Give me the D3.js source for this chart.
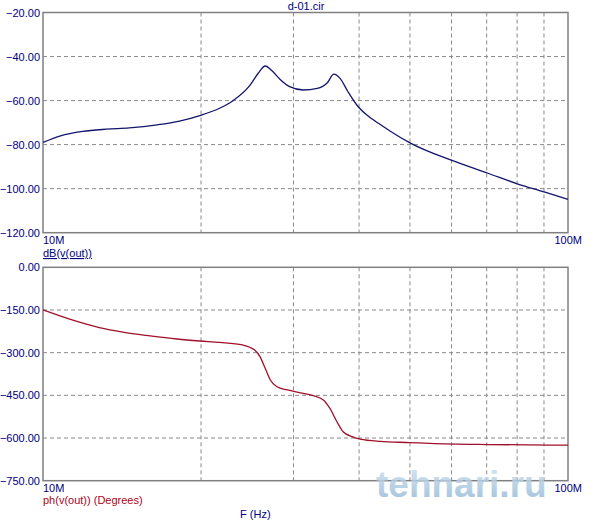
<!DOCTYPE html>
<html>
<head>
<meta charset="utf-8">
<script src="https://cdnjs.cloudflare.com/ajax/libs/d3/7.8.5/d3.min.js"></script>
<style>
body { margin: 0; background: #fff; }
text { font-family: "Liberation Sans", Arial, sans-serif; font-size: 11px; }
</style>
</head>
<body>
<svg id="chart" width="595" height="522"></svg>
<script>
// magnitude curve, MHz vs dB
var magFreq = [10, 10.8, 11.9, 13.2, 14.6, 16.5, 18.2, 19.9, 21.7, 23.0, 24.8, 25.7, 26.5, 27.3, 28.3, 29.5, 31.3, 33.3, 34.8, 35.8, 36.8, 38.1, 39.6, 41.4, 43.9, 45.8, 50.0, 60.1, 70.4, 80.3, 90.4, 100];
var magDb = [-79.0, -76.0, -74.0, -73.0, -72.4, -71.0, -69.3, -66.8, -63.5, -60.1, -53.0, -47.6, -44.3, -46.5, -50.4, -53.7, -55.2, -54.5, -51.9, -48.0, -49.9, -56.0, -62.0, -66.6, -70.9, -73.8, -79.2, -87.2, -93.0, -97.9, -101.6, -104.9];

// phase curve, MHz vs degrees
var phFreq = [10, 11.4, 12.8, 14.2, 16.0, 18.0, 19.9, 21.7, 24.0, 25.3, 25.9, 26.5, 27.1, 27.9, 29.2, 30.9, 32.7, 34.2, 35.2, 36.3, 37.3, 38.8, 40.2, 43.9, 50.0, 54.6, 71.0, 100];
var phDeg = [-150, -186, -212, -228, -241, -252, -259, -264, -273, -291, -314, -355, -396, -420, -431, -441, -451, -466, -496, -543, -578, -595, -604, -612, -616, -619, -623, -625];

var gridFreq = [20, 30, 40, 50, 60, 70, 80, 90];
var topTicks = [-20, -40, -60, -80, -100, -120];
var botTicks = [0, -150, -300, -450, -600, -750];

var svg = d3.select("#chart");
var left = 43, right = 568;

var x = d3.scaleLog().domain([10, 100]).range([left, right]);
var yTop = d3.scaleLinear().domain([-120, -20]).range([232.7, 12.5]);
var yBot = d3.scaleLinear().domain([-750, 0]).range([480.7, 267.3]);

function panel(y, ticks) {
  var g = svg.append("g");
  var y0 = y.range()[0], y1 = y.range()[1];
  // vertical grid
  g.selectAll(".vg").data(gridFreq).enter().append("line")
    .attr("x1", d => x(d)).attr("x2", d => x(d))
    .attr("y1", y1).attr("y2", y0)
    .attr("stroke", "#8a8a8a").attr("stroke-dasharray", "4,3");
  // horizontal grid
  g.selectAll(".hg").data(ticks.slice(1, -1)).enter().append("line")
    .attr("x1", left).attr("x2", right)
    .attr("y1", d => y(d)).attr("y2", d => y(d))
    .attr("stroke", "#8a8a8a").attr("stroke-dasharray", "4,3");
  g.append("rect")
    .attr("x", left).attr("y", y1).attr("width", right - left).attr("height", y0 - y1)
    .attr("fill", "none").attr("stroke", "#808080").attr("stroke-width", 1.5);
  g.selectAll(".yl").data(ticks).enter().append("text")
    .attr("x", 40).attr("y", d => y(d) + 4)
    .attr("text-anchor", "end").attr("fill", "#000080")
    .text(d => d3.format(".2f")(d));
  g.append("text").attr("x", left).attr("y", y0 + 11).attr("fill", "#000080").text("10M");
  g.append("text").attr("x", 582).attr("y", y0 + 11).attr("text-anchor", "end").attr("fill", "#000080").text("100M");
  return g;
}

var gTop = panel(yTop, topTicks);
var gBot = panel(yBot, botTicks);

var magLine = d3.line().x((d, i) => x(magFreq[i])).y(d => yTop(d)).curve(d3.curveMonotoneX);
var phLine = d3.line().x((d, i) => x(phFreq[i])).y(d => yBot(d)).curve(d3.curveMonotoneX);

gTop.append("path").datum(magDb).attr("d", magLine)
  .attr("fill", "none").attr("stroke", "#14146e").attr("stroke-width", 1.3);
gBot.append("path").datum(phDeg).attr("d", phLine)
  .attr("fill", "none").attr("stroke", "#a0102a").attr("stroke-width", 1.3);

// titles and labels
svg.append("text").attr("x", 306).attr("y", 10).attr("text-anchor", "middle").attr("fill", "#000080").text("d-01.cir");
svg.append("text").attr("x", left).attr("y", 257).attr("fill", "#000080")
  .attr("text-decoration", "underline").text("dB(v(out))");
svg.append("text").attr("x", left).attr("y", 504).attr("fill", "#b00020").text("ph(v(out)) (Degrees)");
svg.append("text").attr("x", 240).attr("y", 518).attr("fill", "#000080").text("F (Hz)");

// watermark
var grad = svg.append("defs").append("linearGradient").attr("id", "wm").attr("x1", 0).attr("x2", 0).attr("y1", 0).attr("y2", 1);
grad.append("stop").attr("offset", "0%").attr("stop-color", "#d4e4f0");
grad.append("stop").attr("offset", "100%").attr("stop-color", "#8db5d5");
svg.append("text").attr("x", 376).attr("y", 497)
  .style("font-family", "Liberation Sans").style("font-size", "37px").style("font-weight", "bold")
  .attr("fill", "url(#wm)").attr("opacity", 0.85).text("tehnari.ru");
</script>
</body>
</html>
